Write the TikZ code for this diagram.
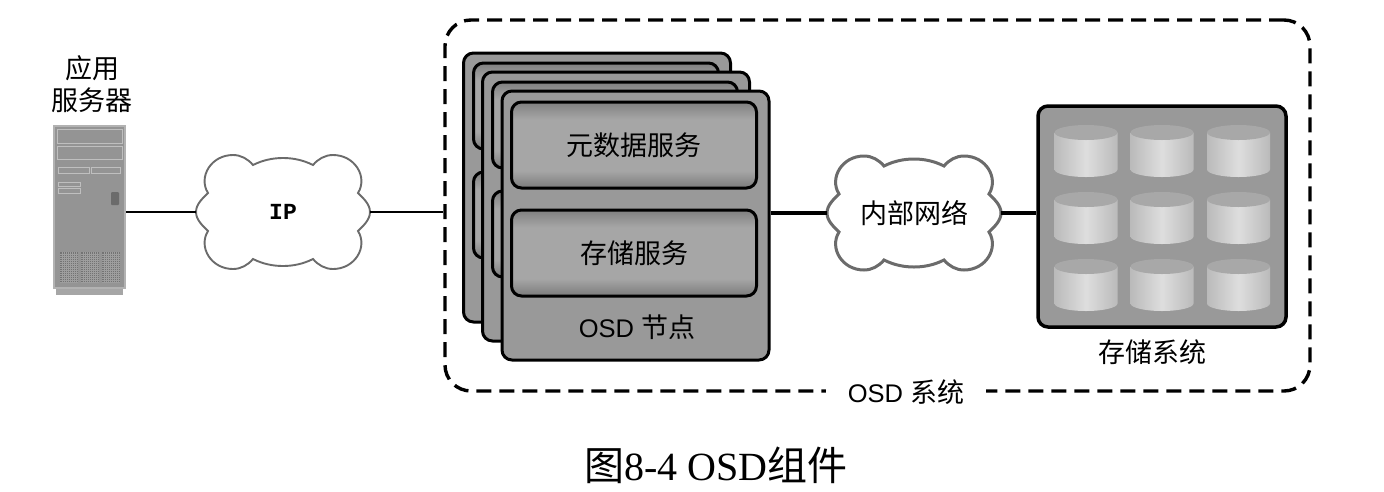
\documentclass[tikz,border=0pt]{standalone}
\usepackage{fontspec}
\setmainfont{Liberation Sans}
\newfontfamily\cjkfont{Noto Sans CJK SC}
\newfontfamily\capfont{Liberation Serif}
\newfontfamily\ipfont{Liberation Mono}
\newcommand{\cn}[1]{{\fontsize{27}{32}\selectfont\cjkfont #1}}
\pgfdeclareverticalshading{servicegrad}{100bp}{color(0bp)=(black!52); color(25bp)=(black!52); color(35bp)=(black!35); color(65bp)=(black!35); color(75bp)=(black!50); color(100bp)=(black!50)}
\tikzset{
  lbl/.style={inner sep=0pt,font=\fontsize{25.5}{32}\selectfont},
  nodebox/.style={draw=black,line width=3pt,fill=black!40,rounded corners=10pt,inner sep=0pt,minimum width=267pt,minimum height=269pt},
  servicebox/.style={draw=black,line width=3pt,shading=servicegrad,rounded corners=10pt,inner sep=0pt,minimum width=245pt,minimum height=86pt},
  cloudline/.style={draw=black!58,fill=white,line width=1.9pt},
  link/.style={draw=black,line width=2.4pt},
  fatlink/.style={draw=black,line width=3.5pt},
  panel/.style={fill=black!42,draw=black!25,line width=0.8pt},
}
% cloud outline, then a node of the same size that carries the text
\newcommand{\netcloud}[5][cloudline]{
  \path[#1,shift={(#3,#4)}] (-87,0) .. controls (-87,-8) and (-80,-14) .. (-75,-19)
    .. controls (-85,-35) and (-72,-57) .. (-50,-57) .. controls (-42,-57) and (-35,-53) .. (-30,-47)
    .. controls (-20,-52) and (-10,-54) .. (0,-54) .. controls (10,-54) and (20,-52) .. (30,-47)
    .. controls (35,-53) and (42,-57) .. (50,-57) .. controls (72,-57) and (85,-35) .. (75,-19)
    .. controls (80,-14) and (87,-8) .. (87,0) .. controls (87,8) and (80,14) .. (75,19)
    .. controls (85,35) and (72,57) .. (50,57) .. controls (42,57) and (35,53) .. (30,47)
    .. controls (20,52) and (10,54) .. (0,54) .. controls (-10,54) and (-20,52) .. (-30,47)
    .. controls (-35,53) and (-42,57) .. (-50,57) .. controls (-72,57) and (-85,35) .. (-75,19)
    .. controls (-80,14) and (-87,8) .. (-87,0) -- cycle;
  \node[lbl,minimum width=174pt,minimum height=113pt] (#2) at (#3,#4) {#5};
}
\begin{document}
\begin{tikzpicture}[x=1pt,y=-1pt]
  \useasboundingbox (0,0) rectangle (1384,491);
  % application server
  \node[lbl,align=center] (serverlabel) at (92,84) {\cn{应用}\\\cn{服务器}};
  \fill[black!35] (56,288) rectangle (123,295);
  \node[draw=black!30,fill=black!42,line width=1.5pt,inner sep=0pt,minimum width=71pt,minimum height=162pt] (server) at (89.5,207) {};
  \draw[panel] (57,129) rectangle (122,143);
  \draw[panel] (57,146) rectangle (122,159);
  \draw[panel] (58,167) rectangle (89,173);
  \draw[panel] (91,167) rectangle (120,173);
  \draw[panel] (58,182) rectangle (80,186);
  \draw[panel] (58,188) rectangle (80,193);
  \fill[black!58,rounded corners=1pt] (111,192) rectangle (119,205);
  \foreach \gx in {60,81,102}{
    \fill[black!55] (\gx,252) rectangle (\gx+18,283);
    \foreach \gy in {254,256,...,282}
      \draw[black!38,line width=0.5pt] (\gx,\gy) -- (\gx+18,\gy);
    \foreach \gd in {2,4,...,16}
      \draw[black!38,line width=0.5pt] (\gx+\gd,252) -- (\gx+\gd,283);
  }
  % OSD system frame
  \node[draw=black,line width=3.4pt,dash pattern=on 15pt off 8pt,rounded corners=26pt,inner sep=0pt,minimum width=865pt,minimum height=371pt] (osdsystem) at (877.5,205.5) {};
  \node[lbl,fill=white,inner xsep=22pt,inner ysep=3pt] (osdlabel) at (906,392) {OSD \cn{系统}};
  % stacked OSD nodes
  \foreach \d in {0,19}{
    \node[nodebox] (back\d) at (597+\d,187.5+\d) {};
    \node[servicebox] (backmeta\d) at (596+\d,106+\d) {};
    \node[servicebox] (backstore\d) at (596+\d,215+\d) {};
  }
  \node[nodebox] (osdnode) at (635.5,225.5) {};
  \node[servicebox,lbl] (metaservice) at (634,145) {\cn{元数据服务}};
  \node[servicebox,lbl] (storeservice) at (634,253) {\cn{存储服务}};
  \node[lbl] (osdnodelabel) at (637,327) {OSD \cn{节点}};
  % storage system
  \node[draw=black,line width=3.5pt,fill=black!40,rounded corners=10pt,inner sep=0pt,minimum width=248pt,minimum height=221pt] (storage) at (1162,216.5) {};
  \foreach \cx in {1086,1162,1238.5}
    \foreach \cy in {132.5,199.5,266.5}{
      \path[left color=black!27,right color=black!27,middle color=black!13] (\cx-31.5,\cy) -- (\cx-31.5,\cy+37)
        arc[start angle=180,end angle=360,x radius=31.5pt,y radius=7.5pt] -- (\cx+31.5,\cy) -- cycle;
      \fill[black!34] (\cx,\cy) ellipse[x radius=31.5pt,y radius=7.5pt];
    }
  \node[lbl] (storagelabel) at (1152,352) {\cn{存储系统}};
  % clouds
  \netcloud{ipcloud}{283}{212}{\fontsize{23}{26}\selectfont\ipfont\bfseries IP}
  \netcloud[cloudline,line width=3pt]{innercloud}{914}{213}{\cn{内部网络}}
  % connectors
  \draw[link] (server.east |- ipcloud.west) -- (ipcloud.west);
  \draw[link] (ipcloud.east) -- (ipcloud.east -| osdsystem.west);
  \draw[fatlink] (osdnode.east |- innercloud.west) -- (innercloud.west);
  \draw[fatlink] (innercloud.east) -- (innercloud.east -| storage.west);
  % caption
  \node[inner sep=0pt,font=\fontsize{40}{46}\selectfont] (caption) at (716,465) {{\cjkfont 图}{\capfont 8-4 OSD}{\cjkfont 组件}};
\end{tikzpicture}
\end{document}
